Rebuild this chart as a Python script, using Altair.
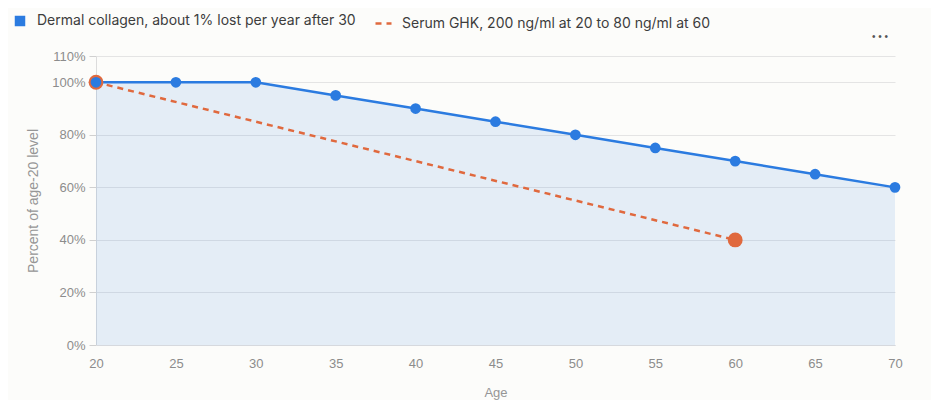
import altair as alt
import pandas as pd

ages = [20, 25, 30, 35, 40, 45, 50, 55, 60, 65, 70]
collagen = [100, 100, 100, 95, 90, 85, 80, 75, 70, 65, 60]
serum_ages = [20, 60]
serum_pct = [100, 40]

S1 = "Dermal collagen, about 1% lost per year after 30"
S2 = "Serum GHK, 200 ng/ml at 20 to 80 ng/ml at 60"
BLUE = "#2b7be0"
ORANGE = "#e0693e"

df = pd.DataFrame(
    {"age": ages + serum_ages,
     "pct": collagen + serum_pct,
     "series": [S1] * len(ages) + [S2] * len(serum_ages)}
)

x = alt.X("age:Q", title="Age", scale=alt.Scale(domain=[20, 70], nice=False),
          axis=alt.Axis(values=ages, ticks=False, grid=False, labelPadding=12,
                        labelFlush=False, titlePadding=16, domainColor="#d6d9de"))
y = alt.Y("pct:Q", title="Percent of age-20 level",
          scale=alt.Scale(domain=[0, 110], nice=False),
          axis=alt.Axis(values=[0, 20, 40, 60, 80, 100, 110],
                        labelExpr="datum.value + '%'", tickSize=7,
                        tickColor="#d0d0d0", labelPadding=4, titlePadding=11,
                        titleFontSize=14,
                        domainColor="#dcdcdc", gridColor="#e4e4e4"))

base = alt.Chart(df)
c_data = base.transform_filter(alt.datum.series == S1)
s_data = base.transform_filter(alt.datum.series == S2)

area = c_data.mark_area(color=BLUE, opacity=0.115).encode(x=x, y=y)

c_line = c_data.mark_line(color=BLUE, strokeWidth=2.5).encode(x=x, y=y)

s_line = s_data.mark_line(color=ORANGE, strokeWidth=2.5).encode(
    x=x, y=y,
    strokeDash=alt.StrokeDash(
        "series:N", scale=alt.Scale(domain=[S2], range=[[6, 5]]),
        legend=alt.Legend(title=None, orient="none", legendX=278, legendY=-42,
                          symbolType="stroke", symbolSize=256,
                          symbolStrokeColor=ORANGE, symbolStrokeWidth=2.5,
                          symbolDash=[4, 3], labelLimit=600,
                          labelFont="Inter", labelFontSize=14, labelColor="#3d3d3d",
                          labelOffset=9)),
)

orange_pts = s_data.mark_circle(color=ORANGE, size=220, opacity=1).encode(x=x, y=y)

blue_pts = c_data.mark_circle(size=115, opacity=1).encode(
    x=x, y=y,
    color=alt.Color(
        "series:N", scale=alt.Scale(domain=[S1], range=[BLUE]),
        legend=alt.Legend(title=None, orient="none", legendX=-83, legendY=-42,
                          symbolType="square", symbolSize=110, symbolOpacity=1,
                          labelLimit=600,
                          labelFont="Inter", labelFontSize=14, labelColor="#3d3d3d",
                          labelOffset=10)),
)

menu = alt.Chart(pd.DataFrame({"t": ["• • •"]})).mark_text(
    fontSize=10, color="#555555", align="center", baseline="middle"
).encode(text="t:N", x=alt.value(784), y=alt.value(-19))

chart = alt.layer(area, c_line, s_line, orange_pts, blue_pts, menu).resolve_scale(
    color="independent", strokeDash="independent"
).properties(
    width=799, height=289,
    padding={"left": 88, "top": 48, "right": 36, "bottom": 55},
    autosize="none",
    background="#fcfcfa",
).configure_view(stroke=None).configure_axis(
    labelFont="Liberation Sans", labelFontSize=13, labelColor="#8c8c8c",
    titleFont="Liberation Sans", titleFontSize=13, titleColor="#969696",
    titleFontWeight="normal",
)

chart.save("out.html", embed_options={"renderer": "svg", "actions": False})
